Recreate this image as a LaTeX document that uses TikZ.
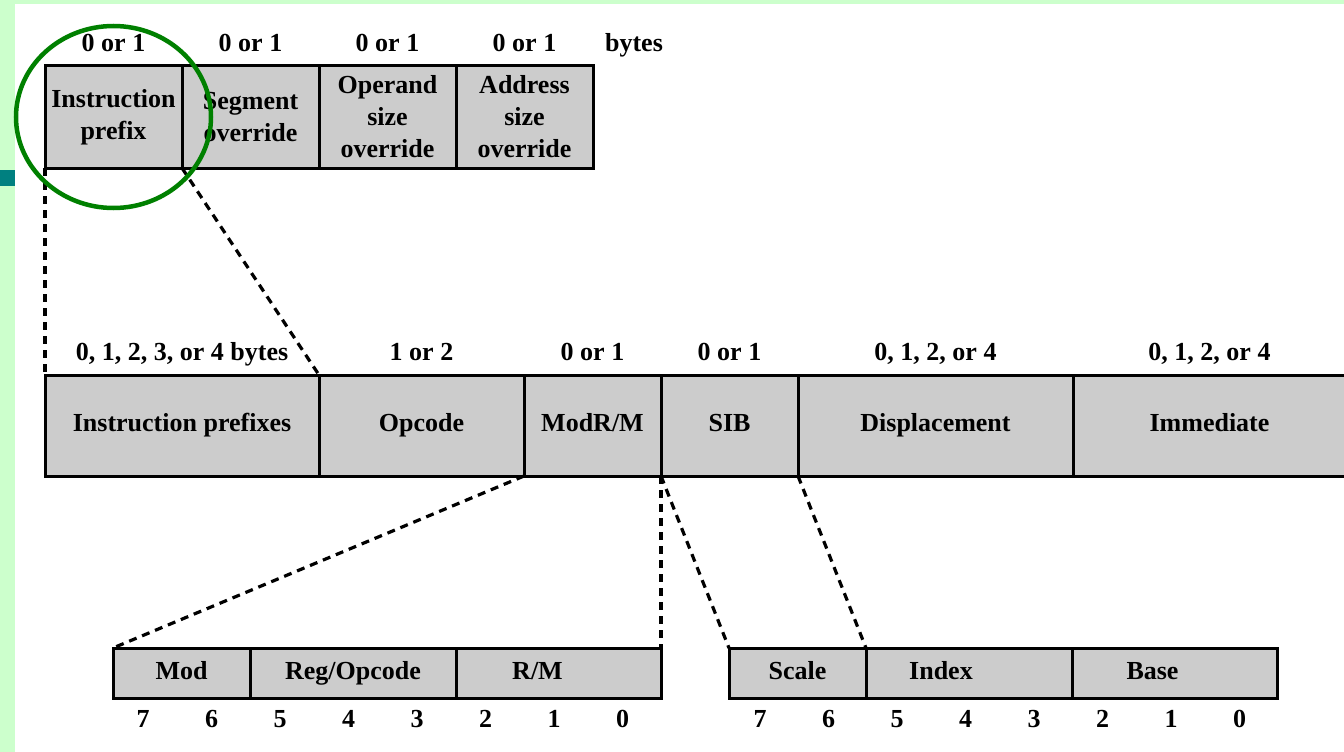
\documentclass[tikz,border=0pt]{standalone}
\usepackage{fontspec}
\setmainfont{Liberation Serif}
\usetikzlibrary{positioning, shapes.geometric}
\definecolor{pagegreen}{RGB}{204,255,204}
\definecolor{tealmark}{RGB}{0,128,128}
\definecolor{fieldgray}{RGB}{204,204,204}
\definecolor{ringgreen}{RGB}{0,128,0}

\begin{document}
\begin{tikzpicture}[
    x=1pt, y=-1pt,
    font=\bfseries\fontsize{26}{32}\selectfont,
    field/.style={rectangle, draw, fill=fieldgray, line width=3pt, outer sep=0pt, inner sep=0pt, align=center},
    topfield/.style={field, minimum height=102},
    midfield/.style={field, minimum height=101, text height=18pt, text depth=6pt},
    bitfield/.style={field, minimum height=50, text height=18pt, text depth=6pt},
    size/.style={inner sep=0pt, text height=18pt, text depth=0pt},
    bit/.style={inner sep=0pt, text height=18pt, text depth=0pt},
    every label/.style={inner sep=0pt, text height=18pt, text depth=6pt},
    link/.style={line width=3.2pt, dash pattern=on 8pt off 6pt},
    ring/.style={ellipse, draw=ringgreen, line width=4.5pt, minimum width=195, minimum height=182}
]
\useasboundingbox (0,0) rectangle (1344,752);

% Page
\fill[pagegreen] (0,0) rectangle (1344,752);
\fill[white] (15,4) rectangle (1344,752);
\fill[tealmark] (0,170) rectangle (15,186);

% Prefix bytes
\node[topfield, minimum width=137, anchor=north west] (ipre) at (45,66) {Instruction\\prefix};
\node[topfield, minimum width=137, right=0pt of ipre] (seg) {Segment\\override};
\node[topfield, minimum width=137, right=0pt of seg] (opsz) {Operand\\size\\override};
\node[topfield, minimum width=137, right=0pt of opsz] (adsz) {Address\\size\\override};

\node[size, above=14pt of ipre] (ipre-n) {0 or 1};
\node[size, above=14pt of seg] (seg-n) {0 or 1};
\node[size, above=14pt of opsz] (opsz-n) {0 or 1};
\node[size, above=14pt of adsz] (adsz-n) {0 or 1};
\node[size] (bytes) at (634,43) {bytes};

% Instruction format
\node[midfield, minimum width=274, anchor=north west] (prefixes) at (45,375) {Instruction prefixes};
\node[midfield, minimum width=205, right=0pt of prefixes] (opcode) {Opcode};
\node[midfield, minimum width=137, right=0pt of opcode] (modrm) {ModR/M};
\node[midfield, minimum width=137, right=0pt of modrm] (sib) {SIB};
\node[midfield, minimum width=275, right=0pt of sib] (disp) {Displacement};
\node[midfield, minimum width=273, right=0pt of disp] (imm) {Immediate};

\node[size, above=14pt of prefixes] (prefixes-n) {0, 1, 2, 3, or 4 bytes};
\node[size, above=14pt of opcode] (opcode-n) {1 or 2};
\node[size, above=14pt of modrm] (modrm-n) {0 or 1};
\node[size, above=14pt of sib] (sib-n) {0 or 1};
\node[size, above=14pt of disp] (disp-n) {0, 1, 2, or 4};
\node[size, above=14pt of imm] (imm-n) {0, 1, 2, or 4};

% ModR/M byte
\node[bitfield, minimum width=137, anchor=north west] (mod) at (113,648) {Mod};
\node[bitfield, minimum width=206, right=0pt of mod] (reg) {Reg/Opcode};
\node[bitfield, minimum width=205, right=0pt of reg, label={[xshift=-21pt]center:R/M}] (rm) {};

% SIB byte
\node[bitfield, minimum width=137, anchor=north west] (scale) at (729,648) {Scale};
\node[bitfield, minimum width=206, right=0pt of scale, label={[xshift=-28pt]center:Index}] (index) {};
\node[bitfield, minimum width=205, right=0pt of index, label={[xshift=-22pt]center:Base}] (base) {};

% Bit numbers
\foreach \b [count=\i from 0] in {7,...,0} {
    \node[bit] (mbit\b) at ({143+68.5*\i},718) {\b};
    \node[bit] (sbit\b) at ({760+68.5*\i},718) {\b};
}

% Expansion lines
\draw[link] (ipre.south west) -- (prefixes.north west);
\draw[link] (ipre.south east) -- (prefixes.north east);
\draw[link] (modrm.south west) -- (mod.north west);
\draw[link] (modrm.south east) -- (rm.north east);
\draw[link] (sib.south west) -- (scale.north west);
\draw[link] (sib.south east) -- (scale.north east);

% Highlight
\node[ring] (mark) at (ipre.center) {};

\end{tikzpicture}
\end{document}
